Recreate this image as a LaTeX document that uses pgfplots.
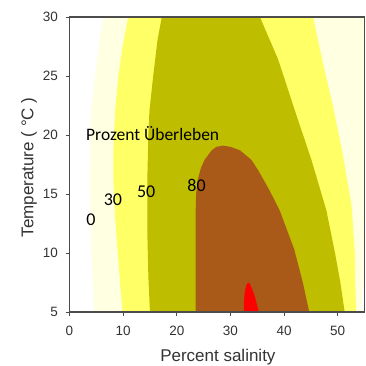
\documentclass[border=0pt]{standalone}
\usepackage{pgfplots}
\pgfplotsset{compat=1.18}
\usepackage{fontspec}
\setmainfont{Liberation Sans}
\newfontfamily\calfont{Carlito}
\definecolor{ly}{HTML}{FFFFE2}
\definecolor{yy}{HTML}{FFFF66}
\definecolor{ol}{HTML}{BFBD00}
\definecolor{br}{HTML}{A95A19}
\definecolor{rd}{HTML}{FF0000}
\begin{document}
\begin{tikzpicture}
\path[use as bounding box] (0,0) rectangle (366pt,365pt);
\begin{axis}[
  at={(69.5pt,53pt)}, anchor=south west,
  scale only axis, width=295pt, height=295pt,
  xmin=0, xmax=55, ymin=5, ymax=30,
  xtick={0,10,20,30,40,50}, ytick={5,10,15,20,25,30},
  tick align=outside, major tick length=4pt,
  xtick pos=bottom, ytick pos=left,
  tick style={black!70, line width=0.8pt},
  axis line style={draw=black!70, line width=1.3pt},
  axis on top,
  /pgf/number format/assume math mode=true,
  ticklabel style={font=\fontsize{13.5}{15}\selectfont, text=black!80},
  xticklabel style={yshift=-7pt},
  yticklabel style={xshift=-4pt},
  xlabel={Percent salinity}, ylabel={Temperature ( °C )},
  label style={font=\fontsize{17}{19}\selectfont, text=black!80},
  xlabel style={at={(axis description cs:0.503,-0.168)}, anchor=base},
  ylabel style={at={(axis description cs:-0.137,0.49)}, anchor=center},
]
% level 0 region
\addplot[fill=ly, draw=none] coordinates {
 (4.6,5) (4.35,7) (4.1,10) (3.9,13) (3.8,16) (3.85,19) (4.0,22) (4.5,24) (5.0,26) (5.6,28) (6.3,30)
 (62,30) (57,15) (55.5,10) (55,8) (54.6,6.5) (54.2,5)} --cycle;
% level 30 region
\addplot[fill=yy, draw=none] coordinates {
 (9.9,5) (9.5,7) (9.0,10) (8.5,13) (8.2,16) (8.2,19) (8.5,22) (9.1,25) (9.9,27.5) (10.95,30)
 (45.4,30) (47.3,26) (49.3,22.1) (51.1,18) (52.6,14) (53.2,10) (53.4,5)} --cycle;
% level 50 region
\addplot[fill=ol, draw=none] coordinates {
 (15.0,5) (14.7,8) (14.5,12) (14.5,16) (14.7,20) (14.9,22) (15.6,25) (16.4,28) (17.2,30)
 (35.5,30) (38.9,26.4) (42.0,22.1) (45.1,17.9) (47.9,13.6) (49.5,10) (50.5,7.5) (51.3,5)} --cycle;
% level 80 region
\addplot[fill=br, draw=none] coordinates {
 (23.5,5) (23.5,13) (23.6,15) (23.9,16.2) (24.5,17.2) (25.2,17.9) (26.5,18.7) (27.4,19.0) (28.6,19.1)
 (30.0,19.0) (31.8,18.7) (33.9,17.9) (35.2,17.0) (37.3,15.3) (39.2,13.6) (41.9,10.3) (43.5,7.5) (44.7,5)} --cycle;
% top region
\addplot[fill=rd, draw=none] coordinates {
 (32.5,5) (32.55,6) (32.7,6.8) (33.0,7.3) (33.3,7.5) (33.6,7.4) (34.0,7.0) (34.5,6.4) (34.9,5.7) (35.3,5)} --cycle;
\draw[black, line width=2.6pt] (rel axis cs:0,0) -- (rel axis cs:1,0);
\draw[black!85, line width=1.6pt] (rel axis cs:0,1) -- (rel axis cs:1,1);
\node[font=\calfont\fontsize{17.5}{19}\selectfont, anchor=west, inner sep=0pt] at (axis cs:3.07,20.1) {Prozent Überleben};
\node[font=\calfont\fontsize{18}{20}\selectfont, inner sep=0pt] at (axis cs:4.0,12.8) {0};
\node[font=\calfont\fontsize{18}{20}\selectfont, inner sep=0pt] at (axis cs:8.1,14.5) {30};
\node[font=\calfont\fontsize{18}{20}\selectfont, inner sep=0pt] at (axis cs:14.3,15.2) {50};
\node[font=\calfont\fontsize{18}{20}\selectfont, inner sep=0pt] at (axis cs:23.7,15.7) {80};
\end{axis}
\end{tikzpicture}
\end{document}
